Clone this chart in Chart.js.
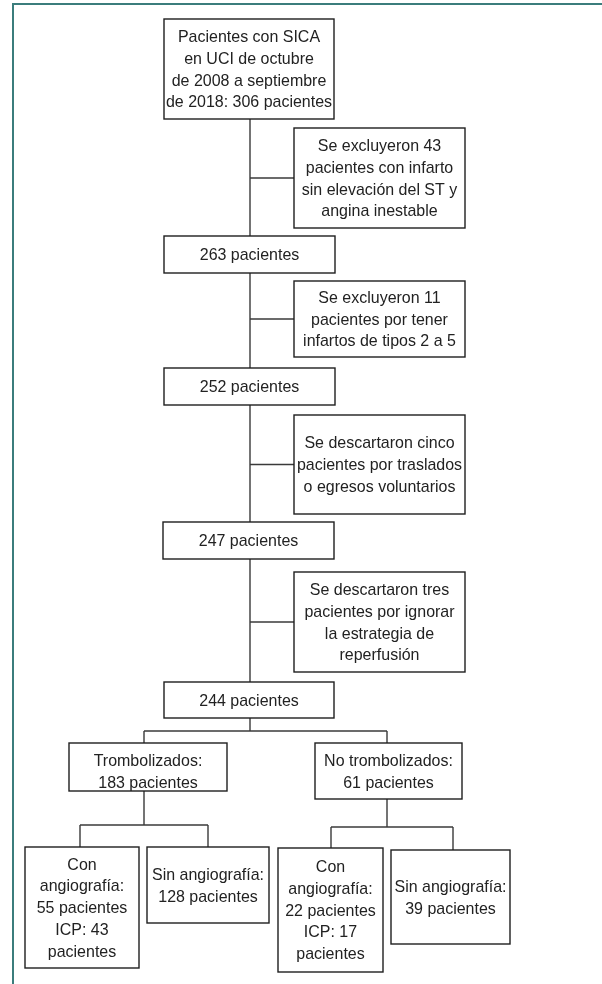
<!DOCTYPE html>
<html lang="es">
<head>
<meta charset="UTF-8">
<title>Flujo de pacientes</title>
<script src="https://cdn.jsdelivr.net/npm/chart.js@4.4.0/dist/chart.umd.min.js"></script>
<style>
  body { margin: 0; background: #fff; }
  #wrap { width: 602px; height: 984px; }
</style>
</head>
<body>
<div id="wrap"><canvas id="chart"></canvas></div>
<script>
// numbers in the flow
const stepCounts = [306, 263, 252, 247, 244];
const exclusionCounts = [43, 11, 5, 3];
const groupNames = ['Trombolizados', 'No trombolizados'];
const groupCounts = [183, 61];
const angioCounts = [55, 22];
const icpCounts = [43, 17];
const noAngioCounts = [128, 39];

// text of every box (line breaks as in the figure)
const boxTexts = [
  ['Pacientes con SICA', 'en UCI de octubre', 'de 2008 a septiembre', 'de 2018: ' + stepCounts[0] + ' pacientes'],
  ['Se excluyeron ' + exclusionCounts[0], 'pacientes con infarto', 'sin elevación del ST y', 'angina inestable'],
  [stepCounts[1] + ' pacientes'],
  ['Se excluyeron ' + exclusionCounts[1], 'pacientes por tener', 'infartos de tipos 2 a 5'],
  [stepCounts[2] + ' pacientes'],
  ['Se descartaron cinco', 'pacientes por traslados', 'o egresos voluntarios'],
  [stepCounts[3] + ' pacientes'],
  ['Se descartaron tres', 'pacientes por ignorar', 'la estrategia de', 'reperfusión'],
  [stepCounts[4] + ' pacientes'],
  [groupNames[0] + ':', groupCounts[0] + ' pacientes'],
  [groupNames[1] + ':', groupCounts[1] + ' pacientes'],
  ['Con', 'angiografía:', angioCounts[0] + ' pacientes', 'ICP: ' + icpCounts[0], 'pacientes'],
  ['Sin angiografía:', noAngioCounts[0] + ' pacientes'],
  ['Con', 'angiografía:', angioCounts[1] + ' pacientes', 'ICP: ' + icpCounts[1], 'pacientes'],
  ['Sin angiografía:', noAngioCounts[1] + ' pacientes']
];

// layout: box corners [x0, y0, x1, y1], optional text centre ty
const layout = [
  { b: [164, 19, 334, 119] },
  { b: [294, 128, 465, 228] },
  { b: [164, 236, 335, 273] },
  { b: [294, 281, 465, 357] },
  { b: [164, 368, 335, 405] },
  { b: [294, 415, 465, 514] },
  { b: [163, 522, 334, 559] },
  { b: [294, 572, 465, 672] },
  { b: [164, 682, 334, 718] },
  { b: [69, 743, 227, 791], ty: 771 },
  { b: [315, 743, 462, 799], ty: 771 },
  { b: [25, 847, 139, 968] },
  { b: [147, 847, 269, 923] },
  { b: [278, 848, 383, 972] },
  { b: [391, 850, 510, 944] }
];
const trunkX = 250;
const sideBoxes = [1, 3, 5, 7];
const splits = [
  { from: 8, stem: 250, y: 731, drops: [[144, 9], [387, 10]] },
  { from: 9, stem: 144, y: 825, drops: [[80, 11], [208, 12]] },
  { from: 10, stem: 387, y: 827, drops: [[331, 13], [453, 14]] }
];

// connector segments built from the layout
const segments = [];
segments.push([[trunkX, layout[0].b[3]], [trunkX, layout[8].b[1]]]);
sideBoxes.forEach(i => {
  const yc = (layout[i].b[1] + layout[i].b[3]) / 2;
  segments.push([[trunkX, yc], [layout[i].b[0], yc]]);
});
splits.forEach(s => {
  segments.push([[s.stem, layout[s.from].b[3]], [s.stem, s.y]]);
  const xs = s.drops.map(d => d[0]);
  segments.push([[Math.min(...xs), s.y], [Math.max(...xs), s.y]]);
  s.drops.forEach(d => segments.push([[d[0], s.y], [d[0], layout[d[1]].b[1]]]));
});

const datasets = segments.map(seg => ({
  type: 'scatter',
  data: seg.map(p => ({ x: p[0], y: p[1] })),
  showLine: true,
  borderColor: '#3a3a3a',
  borderWidth: 1.4,
  pointRadius: 0,
  fill: false
}));

const flowPlugin = {
  id: 'flow',
  beforeDraw(chart) {
    const ctx = chart.ctx, sx = chart.scales.x, sy = chart.scales.y;
    ctx.save();
    ctx.fillStyle = '#fff';
    ctx.fillRect(0, 0, chart.width, chart.height);
    ctx.strokeStyle = '#3b7d7c';
    ctx.lineWidth = 2;
    ctx.beginPath();
    ctx.moveTo(sx.getPixelForValue(13), sy.getPixelForValue(984));
    ctx.lineTo(sx.getPixelForValue(13), sy.getPixelForValue(4));
    ctx.lineTo(sx.getPixelForValue(602), sy.getPixelForValue(4));
    ctx.stroke();
    ctx.restore();
  },
  afterDatasetsDraw(chart) {
    const ctx = chart.ctx, sx = chart.scales.x, sy = chart.scales.y;
    ctx.save();
    layout.forEach((l, i) => {
      const x0 = sx.getPixelForValue(l.b[0]), x1 = sx.getPixelForValue(l.b[2]);
      const y0 = sy.getPixelForValue(l.b[1]), y1 = sy.getPixelForValue(l.b[3]);
      ctx.fillStyle = '#fff';
      ctx.fillRect(x0, y0, x1 - x0, y1 - y0);
      ctx.strokeStyle = '#1e1e1e';
      ctx.lineWidth = 1.4;
      ctx.strokeRect(x0, y0, x1 - x0, y1 - y0);
      const lines = boxTexts[i];
      const lh = 21.8;
      const cx = (x0 + x1) / 2;
      const cy = l.ty ? sy.getPixelForValue(l.ty) : (y0 + y1) / 2;
      ctx.fillStyle = '#222';
      ctx.font = '17px "Liberation Sans", Arial, sans-serif';
      ctx.textAlign = 'center';
      ctx.textBaseline = 'middle';
      lines.forEach((t, k) => {
        const ty = cy + (k - (lines.length - 1) / 2) * lh + 1;
        ctx.save();
        ctx.translate(cx, ty);
        ctx.scale(0.94, 1);
        ctx.fillText(t, 0, 0);
        ctx.restore();
      });
    });
    ctx.restore();
  }
};

new Chart(document.getElementById('chart'), {
  type: 'scatter',
  data: { datasets: datasets },
  options: {
    responsive: true,
    maintainAspectRatio: false,
    animation: false,
    events: [],
    layout: { padding: 0 },
    plugins: { legend: { display: false }, tooltip: { enabled: false } },
    scales: {
      x: { type: 'linear', min: 0, max: 602, display: false },
      y: { type: 'linear', min: 0, max: 984, reverse: true, display: false }
    }
  },
  plugins: [flowPlugin]
});
</script>
</body>
</html>
